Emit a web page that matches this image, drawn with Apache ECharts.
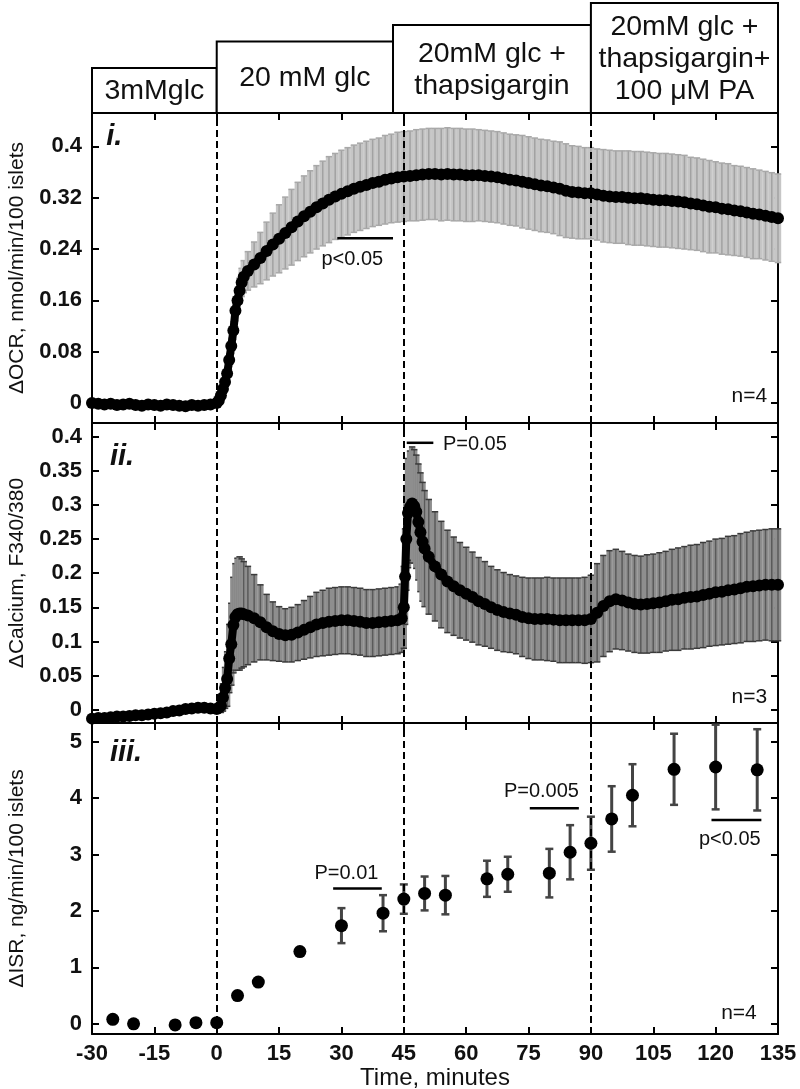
<!DOCTYPE html>
<html><head><meta charset="utf-8">
<script src="https://cdn.jsdelivr.net/npm/echarts@6/dist/echarts.min.js"></script>
<style>html,body{margin:0;padding:0;background:#fff}#c{width:800px;height:1089px}</style>
</head><body><div id="c"></div>
<script>
// ---------- axes / ticks ----------
const X_MIN = -30, X_MAX = 135, X_STEP = 15;
const stimTimes = [0, 45, 90];
const ocrTicks = [0, 0.08, 0.16, 0.24, 0.32, 0.4];
const caTicks = [0, 0.05, 0.1, 0.15, 0.2, 0.25, 0.3, 0.35, 0.4];
const isrTicks = [0, 1, 2, 3, 4, 5];
const ocrRange = [-0.031, 0.452];
const caRange = [-0.0194, 0.42];
const isrRange = [-0.18, 5.33];

// ---------- header (conditions) ----------
const hdrStart = [-30, 0, 42.4, 90];
const hdrEnd = [0, 42.4, 90, 135];
const hdrLevel = [45, 71.5, 88, 110];
const hdrText = ['3mMglc', '20 mM glc', '20mM glc +\nthapsigargin', '20mM glc +\nthapsigargin+\n100 \u03bcM PA'];

// ---------- panel i: OCR ----------
const ocrTime = [-30,-28.5,-27,-25.5,-24,-22.5,-21,-19.5,-18,-16.5,-15,-13.5,-12,-10.5,-9,-7.5,-6,-4.5,-3,-1.5,0,
0.5,1,1.5,2,2.5,3,3.5,4,4.5,5,5.5,6,6.5,
7.5,9,10.5,12,13.5,15,16.5,18,19.5,21,22.5,24,25.5,27,28.5,30,31.5,33,34.5,36,37.5,39,40.5,42,43.5,45,46.5,48,49.5,51,52.5,54,55.5,57,58.5,60,61.5,63,64.5,66,67.5,69,70.5,72,73.5,75,76.5,78,79.5,81,82.5,84,85.5,87,88.5,90,91.5,93,94.5,96,97.5,99,100.5,102,103.5,105,106.5,108,109.5,111,112.5,114,115.5,117,118.5,120,121.5,123,124.5,126,127.5,129,130.5,132,133.5,135];
const ocrMean = [0.000,-0.001,-0.002,-0.001,-0.003,-0.002,-0.001,-0.003,-0.004,-0.002,-0.003,-0.004,-0.002,-0.003,-0.004,-0.005,-0.003,-0.004,-0.003,-0.002,0.000,
0.004,0.012,0.022,0.033,0.046,0.067,0.089,0.113,0.144,0.160,0.175,0.188,0.197,
0.206,0.216,0.226,0.237,0.247,0.256,0.265,0.274,0.283,0.291,
0.298,0.305,0.311,0.317,0.322,0.326,0.330,0.334,0.337,0.340,
0.343,0.345,0.348,0.350,0.352,0.353,0.354,0.355,0.356,0.357,
0.357,0.356,0.357,0.356,0.356,0.355,0.355,0.355,0.354,0.353,
0.352,0.350,0.348,0.347,0.345,0.343,0.341,0.339,0.338,0.336,
0.334,0.331,0.329,0.328,0.327,0.327,0.325,0.323,0.322,0.321,
0.321,0.320,0.319,0.319,0.318,0.317,0.316,0.316,0.315,0.314,
0.313,0.311,0.310,0.308,0.306,0.305,0.303,0.302,0.300,0.299,
0.297,0.295,0.294,0.292,0.290,0.288];
const ocrSem = [0.003,0.003,0.003,0.003,0.003,0.003,0.003,0.003,0.003,0.003,0.003,0.003,0.003,0.003,0.003,0.003,0.003,0.003,0.003,0.003,0.003,
0.004,0.005,0.006,0.007,0.008,0.010,0.012,0.014,0.016,0.018,0.020,0.022,0.025,
0.030,0.035,0.040,0.045,0.049,0.053,0.056,0.059,0.061,0.063,
0.064,0.065,0.066,0.067,0.067,0.068,0.068,0.068,0.068,0.068,
0.068,0.068,0.069,0.069,0.070,0.070,0.070,0.071,0.071,0.071,
0.071,0.072,0.072,0.072,0.072,0.072,0.072,0.071,0.071,0.071,
0.071,0.071,0.071,0.071,0.072,0.072,0.072,0.072,0.072,0.072,
0.073,0.073,0.072,0.072,0.071,0.071,0.071,0.072,0.072,0.072,
0.072,0.073,0.073,0.073,0.073,0.073,0.073,0.073,0.073,0.073,
0.073,0.072,0.072,0.072,0.072,0.071,0.071,0.071,0.070,0.070,
0.070,0.070,0.069,0.069,0.069,0.069];

// ---------- panel ii: calcium ----------
const caTime = [-30,-28.5,-27,-25.5,-24,-22.5,-21,-19.5,-18,-16.5,-15,-13.5,-12,-10.5,-9,-7.5,-6,-4.5,-3,-1.5,0,
0.5,1,1.5,2,2.5,3,3.5,4,4.5,5,5.5,6,6.5,
7.5,9,10.5,12,13.5,15,16.5,18,19.5,21,22.5,24,25.5,27,28.5,30,31.5,33,34.5,36,37.5,39,40.5,42,43.5,
44.5,45,45.3,45.6,46,46.5,47,47.5,48,48.5,49,49.5,50,
51,52.5,54,55.5,57,58.5,60,61.5,63,64.5,66,67.5,69,70.5,72,73.5,75,76.5,78,79.5,81,82.5,84,85.5,87,88.5,90,91.5,93,94.5,96,97.5,99,100.5,102,103.5,105,106.5,108,109.5,111,112.5,114,115.5,117,118.5,120,121.5,123,124.5,126,127.5,129,130.5,132,133.5,135];
const caMean = [-0.013,-0.012,-0.012,-0.011,-0.010,-0.010,-0.009,-0.008,-0.008,-0.007,-0.006,-0.005,-0.004,-0.002,-0.001,0.001,0.002,0.003,0.003,0.002,0.001,
0.003,0.006,0.018,0.032,0.045,0.075,0.096,0.124,0.136,0.140,0.141,0.141,0.140,
0.138,0.134,0.128,0.121,0.115,0.111,0.109,0.110,0.113,0.117,0.121,0.125,0.127,0.129,0.130,0.131,0.131,0.130,0.129,0.127,0.127,0.128,0.129,0.130,0.131,
0.134,0.150,0.195,0.250,0.288,0.297,0.302,0.298,0.290,0.275,0.260,0.246,0.236,
0.224,0.210,0.198,0.188,0.181,0.175,0.170,0.165,0.159,0.155,
0.150,0.146,0.143,0.141,0.139,0.136,0.134,0.133,0.133,0.133,
0.132,0.131,0.131,0.131,0.131,0.131,0.133,0.142,0.152,0.159,
0.162,0.160,0.157,0.155,0.154,0.155,0.156,0.157,0.159,0.161,
0.162,0.164,0.165,0.166,0.168,0.170,0.172,0.173,0.175,0.176,
0.178,0.180,0.181,0.182,0.183,0.183,0.183];
const caSem = [0.004,0.004,0.004,0.004,0.004,0.004,0.004,0.004,0.004,0.004,0.004,0.004,0.004,0.004,0.004,0.004,0.004,0.004,0.004,0.004,0.004,
0.005,0.010,0.020,0.030,0.040,0.050,0.060,0.070,0.078,0.082,0.083,0.080,0.077,
0.072,0.064,0.055,0.048,0.043,0.040,0.039,0.040,0.041,0.043,0.045,0.047,0.048,0.049,0.049,0.049,0.049,0.049,0.049,0.049,0.049,0.049,0.049,0.049,0.049,
0.050,0.060,0.070,0.075,0.080,0.082,0.083,0.083,0.083,0.085,0.087,0.087,0.085,
0.084,0.080,0.078,0.075,0.072,0.070,0.068,0.066,0.064,0.062,
0.060,0.059,0.058,0.057,0.057,0.058,0.059,0.060,0.060,0.061,
0.061,0.062,0.062,0.062,0.062,0.063,0.064,0.072,0.074,0.074,
0.073,0.072,0.071,0.071,0.071,0.072,0.072,0.073,0.073,0.074,
0.075,0.075,0.076,0.076,0.077,0.077,0.078,0.078,0.079,0.079,
0.080,0.080,0.081,0.081,0.081,0.082,0.082];

// ---------- panel iii: ISR ----------
const isrTime = [-25,-20,-10,-5,0,5,10,20,30,40,45,50,55,65,70,80,85,90,95,100,110,120,130];
const isrMean = [0.08,0.00,-0.02,0.02,0.02,0.50,0.74,1.28,1.74,1.96,2.21,2.31,2.28,2.57,2.65,2.67,3.04,3.20,3.63,4.05,4.51,4.55,4.50];
const isrSem = [0.02,0.02,0.02,0.02,0.02,0.03,0.03,0.05,0.31,0.32,0.26,0.30,0.34,0.32,0.31,0.43,0.48,0.47,0.58,0.55,0.63,0.75,0.72];

// ---------- annotations ----------
const ann1 = [
  {x1: 29, x2: 42.4, y: 0.257, text: 'p<0.05', tx: 32.6, ty: 0.223},
  {text: 'i.', tx: -26.6, ty: 0.414, size: 29, weight: 'bold', style: 'italic', align: 'left'},
  {text: 'n=4', tx: 132.4, ty: 0.010, size: 21, align: 'right'}
];
const ann2 = [
  {x1: 45.7, x2: 52.1, y: 0.391, text: 'P=0.05', tx: 54.4, ty: 0.389, align: 'left'},
  {text: 'ii.', tx: -25.7, ty: 0.370, size: 29, weight: 'bold', style: 'italic', align: 'left'},
  {text: 'n=3', tx: 132.4, ty: 0.019, size: 21, align: 'right'}
];
const ann3 = [
  {x1: 28, x2: 39.7, y: 2.40, text: 'P=0.01', tx: 31.2, ty: 2.67},
  {x1: 75.3, x2: 87.1, y: 3.82, text: 'P=0.005', tx: 78.1, ty: 4.11},
  {x1: 119, x2: 131, y: 3.61, text: 'p<0.05', tx: 123.4, ty: 3.26},
  {text: 'iii.', tx: -25.7, ty: 4.80, size: 29, weight: 'bold', style: 'italic', align: 'left'},
  {text: 'n=4', tx: 129.9, ty: 0.195, size: 21, align: 'right'}
];

const FONT = '"Liberation Sans", Arial, Helvetica, sans-serif';
const INK = '#111';

function xAxes(gi, showLabels) {
  const common = {
    type: 'value', gridIndex: gi, min: X_MIN, max: X_MAX, interval: X_STEP,
    axisLine: {show: true, onZero: false, lineStyle: {color: '#000', width: 2}},
    axisTick: {show: true, inside: true, length: 7, lineStyle: {color: '#000', width: 2}},
    splitLine: {show: false}
  };
  return [
    Object.assign({}, common, {
      position: 'bottom',
      axisLabel: {show: showLabels, fontSize: 22, fontFamily: FONT, fontWeight: 'bold', color: INK, margin: 9},
      name: showLabels ? 'Time, minutes' : '', nameLocation: 'middle', nameGap: 28,
      nameTextStyle: {fontSize: 24, fontFamily: FONT, color: INK}
    }),
    Object.assign({}, common, {position: 'top', axisLabel: {show: false}})
  ];
}
function yAxes(gi, range, ticks, name, gap) {
  const common = {
    type: 'value', gridIndex: gi, min: range[0], max: range[1],
    axisLine: {show: true, onZero: false, lineStyle: {color: '#000', width: 2}},
    axisTick: {show: true, inside: true, length: 7, customValues: ticks, lineStyle: {color: '#000', width: 2}},
    splitLine: {show: false}
  };
  return [
    Object.assign({}, common, {
      position: 'left',
      axisLabel: {show: true, customValues: ticks, fontSize: 22, fontFamily: FONT, fontWeight: 'bold', color: INK, margin: 10},
      name: name, nameLocation: 'middle', nameGap: gap,
      nameTextStyle: {fontSize: 21, fontFamily: FONT, color: INK}
    }),
    Object.assign({}, common, {position: 'right', axisLabel: {show: false}})
  ];
}

function bandRender(fill, stroke, capColor, half) {
  return function (params, api) {
    const t = api.value(0), m = api.value(1), s = api.value(2);
    const top = api.coord([t, m + s]), bot = api.coord([t, m - s]);
    return {type: 'group', children: [
      {type: 'rect', shape: {x: top[0] - half, y: top[1], width: half * 2, height: bot[1] - top[1]}, style: {fill: fill}},
      {type: 'line', shape: {x1: top[0], y1: top[1], x2: bot[0], y2: bot[1]}, style: {stroke: stroke, lineWidth: 1.5}},
      {type: 'line', shape: {x1: top[0] - half, y1: top[1], x2: top[0] + half, y2: top[1]}, style: {stroke: capColor, lineWidth: 1.5}},
      {type: 'line', shape: {x1: bot[0] - half, y1: bot[1], x2: bot[0] + half, y2: bot[1]}, style: {stroke: capColor, lineWidth: 1.5}}
    ]};
  };
}
function errRender(params, api) {
  const t = api.value(0), m = api.value(1), s = api.value(2);
  const top = api.coord([t, m + s]), bot = api.coord([t, m - s]);
  const c = 4;
  return {type: 'group', children: [
    {type: 'line', shape: {x1: top[0], y1: top[1], x2: bot[0], y2: bot[1]}, style: {stroke: '#444', lineWidth: 3}},
    {type: 'line', shape: {x1: top[0] - c, y1: top[1], x2: top[0] + c, y2: top[1]}, style: {stroke: '#444', lineWidth: 2.5}},
    {type: 'line', shape: {x1: bot[0] - c, y1: bot[1], x2: bot[0] + c, y2: bot[1]}, style: {stroke: '#444', lineWidth: 2.5}}
  ]};
}
function annRender(list) {
  return function (params, api) {
    const a = list[params.dataIndex];
    const children = [];
    if (a.x1 != null) {
      const p1 = api.coord([a.x1, a.y]), p2 = api.coord([a.x2, a.y]);
      children.push({type: 'line', shape: {x1: p1[0], y1: p1[1], x2: p2[0], y2: p2[1]}, style: {stroke: '#000', lineWidth: 2.5}});
    }
    const tp = api.coord([a.tx, a.ty]);
    children.push({type: 'text', x: tp[0], y: tp[1], style: {
      text: a.text, fill: INK, fontSize: a.size || 20, fontFamily: FONT,
      fontWeight: a.weight || 'normal', fontStyle: a.style || 'normal',
      align: a.align || 'center', verticalAlign: 'middle'}});
    return {type: 'group', children: children};
  };
}
function headerRender(params, api) {
  const i = params.dataIndex;
  const p1 = api.coord([hdrStart[i], 0]), p2 = api.coord([hdrEnd[i], hdrLevel[i]]);
  return {type: 'group', children: [
    {type: 'rect', shape: {x: p1[0], y: p2[1], width: p2[0] - p1[0], height: p1[1] - p2[1]},
     style: {fill: '#fff', stroke: '#000', lineWidth: 2}},
    {type: 'text', x: (p1[0] + p2[0]) / 2, y: (p1[1] + p2[1]) / 2 + 1, style: {
      text: hdrText[i], fill: INK, fontSize: 28.5, fontFamily: FONT, lineHeight: 32,
      align: 'center', verticalAlign: 'middle'}}
  ]};
}

function zip3(a, b, c) { return a.map((v, i) => [v, b[i], c[i]]); }
function vlineSeries(k) {
  return {type: 'line', xAxisIndex: 2 * k - 1, yAxisIndex: 2 * k - 1, data: [], z: 4, silent: true,
    markLine: {symbol: ['none', 'none'], silent: true, animation: false, label: {show: false},
      lineStyle: {color: '#000', type: [7, 4], width: 2},
      data: stimTimes.map(t => ({xAxis: t}))}};
}
function dotLine(k, time, mean) {
  return {type: 'line', xAxisIndex: 2 * k - 1, yAxisIndex: 2 * k - 1, symbol: 'circle', symbolSize: 12,
    showSymbol: true, showAllSymbol: true, lineStyle: {color: '#000', width: 8},
    itemStyle: {color: '#000', opacity: 1}, data: time.map((t, i) => [t, mean[i]]), z: 6, silent: true};
}

const grids = [
  {left: 92, right: 22, top: 0, height: 113},
  {left: 92, right: 22, top: 113, height: 310},
  {left: 92, right: 22, top: 423, height: 300},
  {left: 92, right: 22, top: 723, height: 311}
].map(g => Object.assign(g, {containLabel: false, outerBoundsMode: 'none'}));

const option = {
  backgroundColor: '#fff',
  animation: false,
  grid: grids,
  xAxis: [{type: 'value', gridIndex: 0, min: X_MIN, max: X_MAX, show: false}]
    .concat(xAxes(1, false), xAxes(2, false), xAxes(3, true)),
  yAxis: [{type: 'value', gridIndex: 0, min: 0, max: 113, show: false}]
    .concat(yAxes(1, ocrRange, ocrTicks, '\u0394OCR, nmol/min/100 islets', 64),
            yAxes(2, caRange, caTicks, '\u0394Calcium, F340/380', 64),
            yAxes(3, isrRange, isrTicks, '\u0394ISR, ng/min/100 islets', 64)),
  series: [
    {type: 'custom', xAxisIndex: 0, yAxisIndex: 0, renderItem: headerRender,
     data: hdrStart.map((s, i) => [s, hdrEnd[i], hdrLevel[i]]), encode: {x: [0, 1], y: 2}, z: 5},
    // panel i
    {type: 'custom', xAxisIndex: 1, yAxisIndex: 1, renderItem: bandRender('#c6c6c6', '#a2a2a2', '#a8a8a8', 3.2),
     data: zip3(ocrTime, ocrMean, ocrSem), encode: {x: 0, y: 1}, z: 2},
    vlineSeries(1),
    dotLine(1, ocrTime, ocrMean),
    {type: 'custom', xAxisIndex: 1, yAxisIndex: 1, renderItem: annRender(ann1),
     data: ann1.map(a => [a.tx, a.ty]), encode: {x: 0, y: 1}, z: 7},
    // panel ii
    {type: 'custom', xAxisIndex: 3, yAxisIndex: 3, renderItem: bandRender('#8e8e8e', '#5a5a5a', '#3a3a3a', 3.2),
     data: zip3(caTime, caMean, caSem), encode: {x: 0, y: 1}, z: 2},
    vlineSeries(2),
    dotLine(2, caTime, caMean),
    {type: 'custom', xAxisIndex: 3, yAxisIndex: 3, renderItem: annRender(ann2),
     data: ann2.map(a => [a.tx, a.ty]), encode: {x: 0, y: 1}, z: 7},
    // panel iii
    {type: 'custom', xAxisIndex: 5, yAxisIndex: 5, renderItem: errRender,
     data: zip3(isrTime, isrMean, isrSem), encode: {x: 0, y: 1}, z: 3},
    vlineSeries(3),
    {type: 'scatter', xAxisIndex: 5, yAxisIndex: 5, symbol: 'circle', symbolSize: 13,
     itemStyle: {color: '#000', opacity: 1}, data: isrTime.map((t, i) => [t, isrMean[i]]), z: 6},
    {type: 'custom', xAxisIndex: 5, yAxisIndex: 5, renderItem: annRender(ann3),
     data: ann3.map(a => [a.tx, a.ty]), encode: {x: 0, y: 1}, z: 7}
  ]
};
const chart = echarts.init(document.getElementById('c'), null, {renderer: 'canvas'});
chart.setOption(option);
</script>
</body></html>
